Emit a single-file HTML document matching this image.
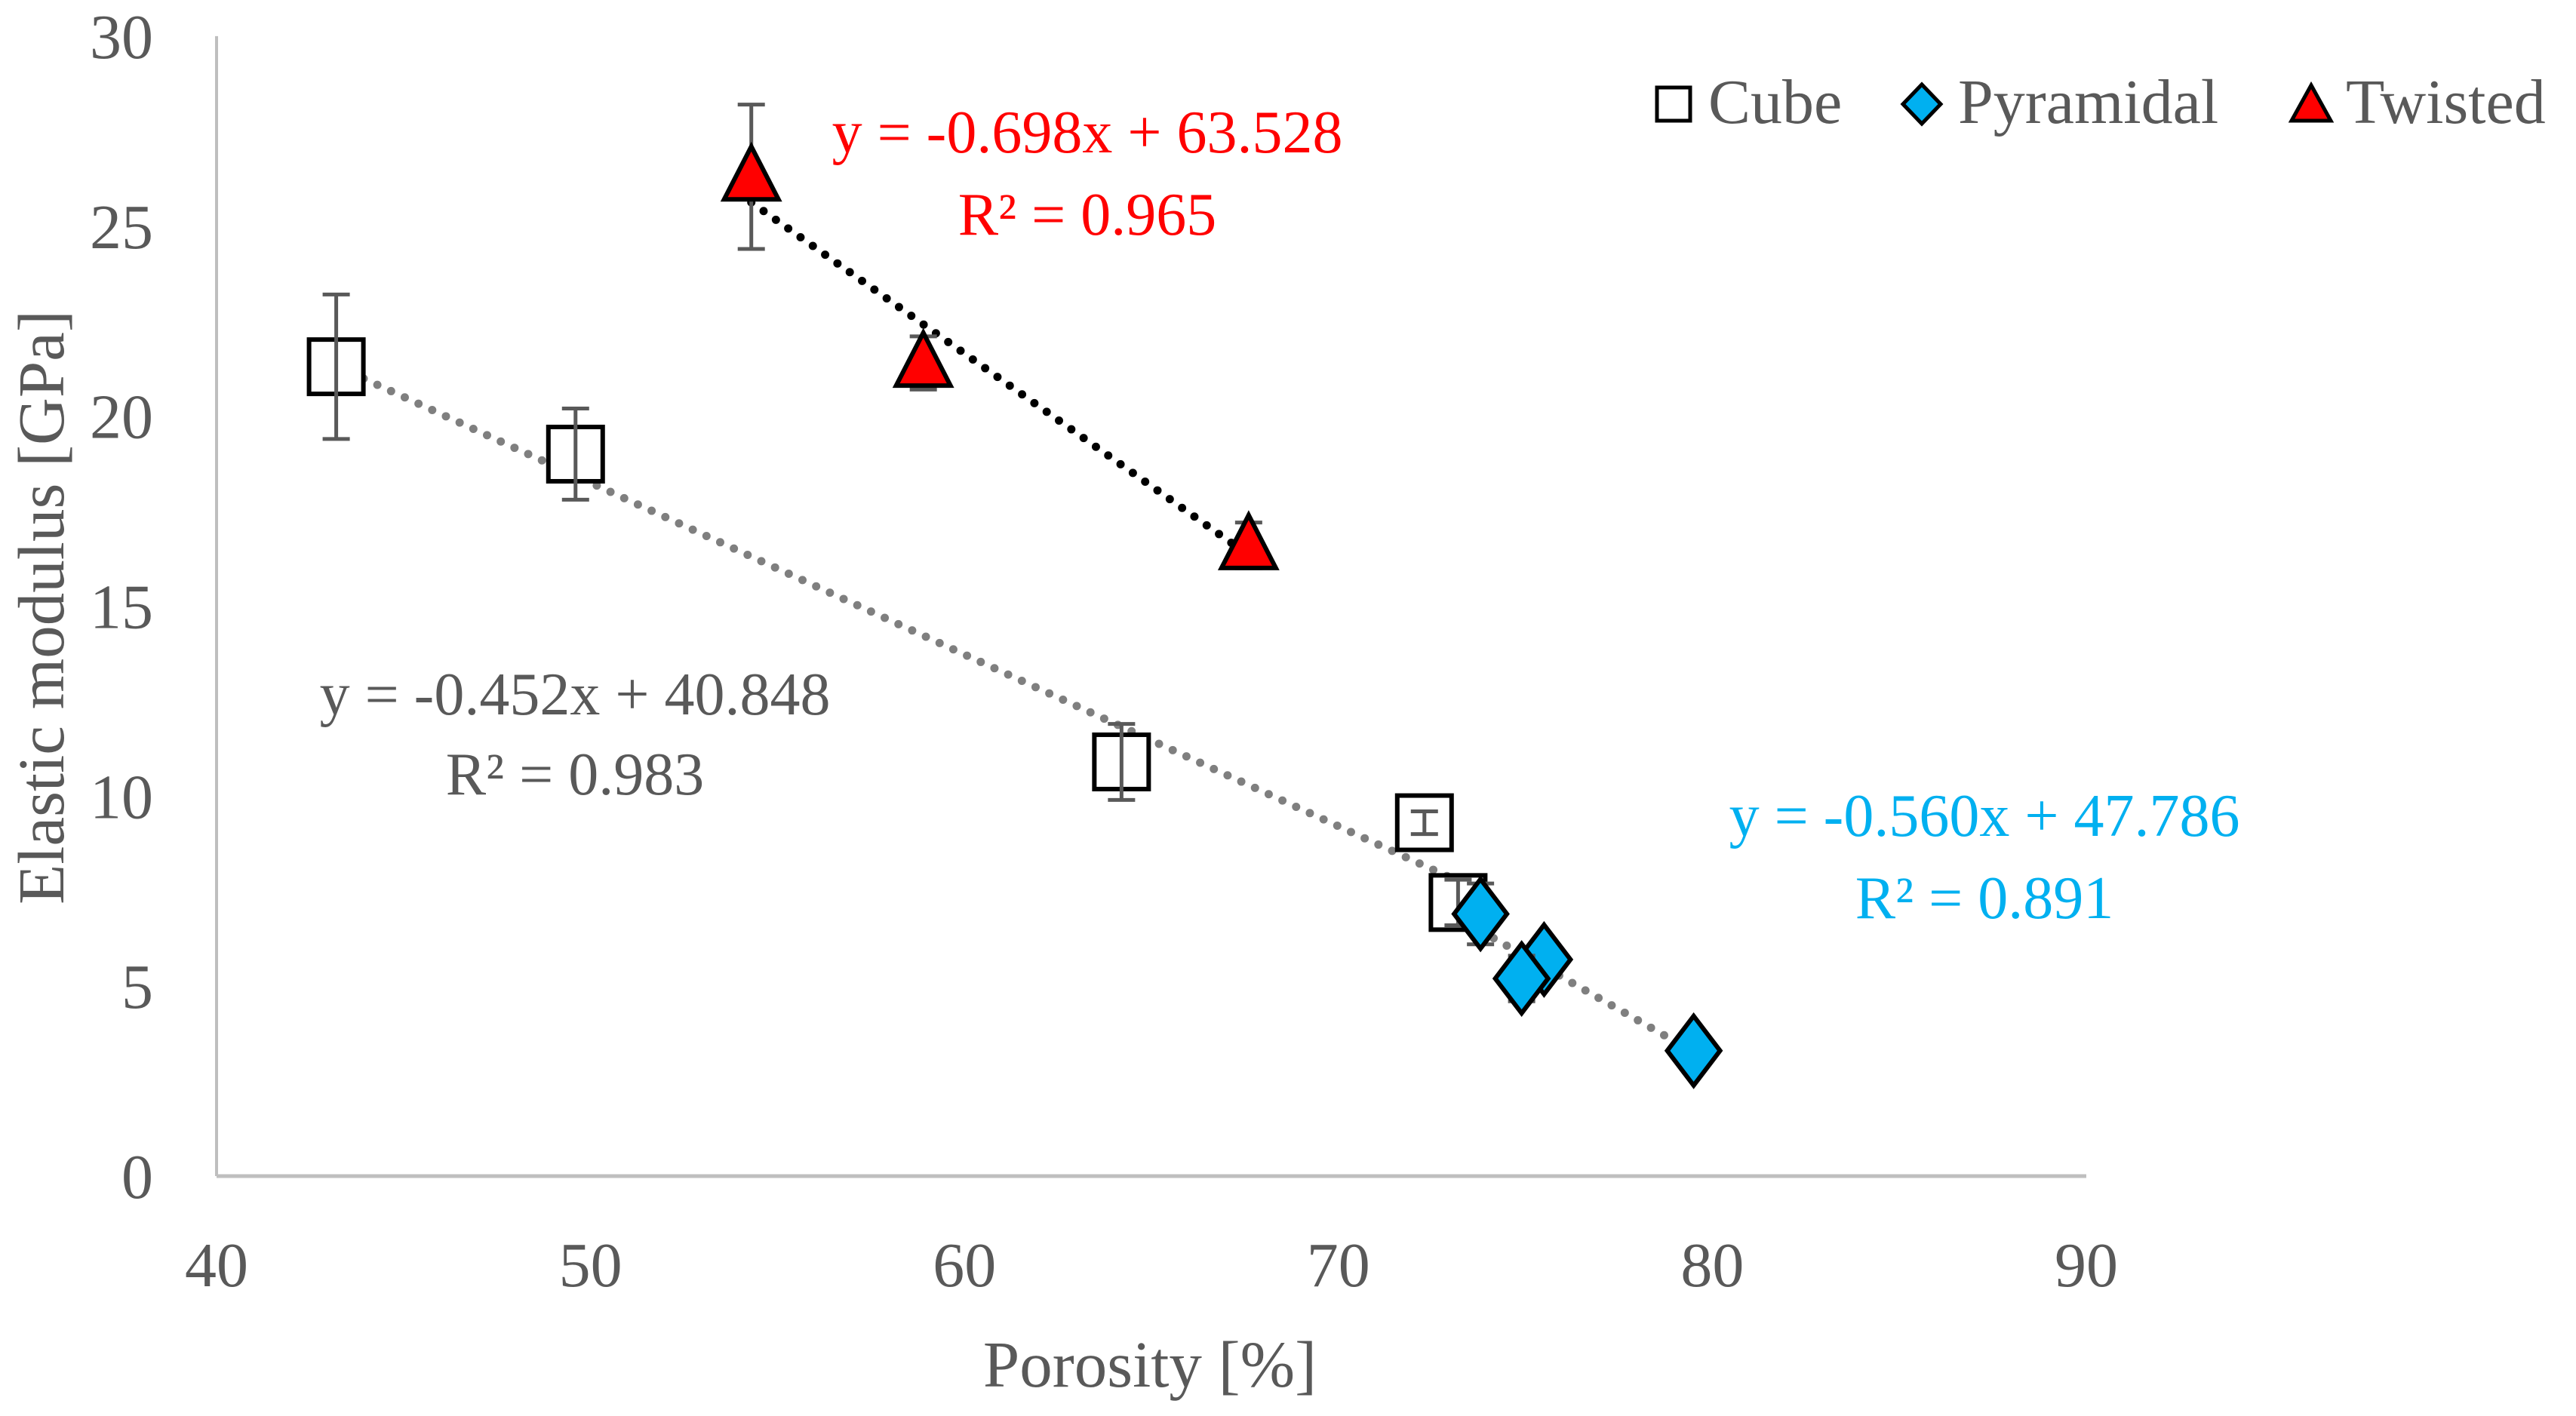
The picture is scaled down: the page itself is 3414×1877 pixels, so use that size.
<!DOCTYPE html>
<html><head><meta charset="utf-8"><style>
html,body{margin:0;padding:0;background:#fff}
svg{display:block;font-family:"Liberation Serif",serif}
</style></head><body>
<svg id="chart" width="3414" height="1877" viewBox="0 0 3414 1877" xmlns="http://www.w3.org/2000/svg">
<g id="axes"></g>
<g id="trends"></g>
<g id="marks"></g>
<g id="legend">
  <rect x="2196" y="116" width="44" height="44" fill="#fff" stroke="#000" stroke-width="5"/>
  <text x="2264" y="163" font-size="84" fill="#595959">Cube</text>
  <polygon points="2547,112 2572,138 2547,164 2522,138" fill="#00b0f0" stroke="#000" stroke-width="5"/>
  <text x="2595" y="163" font-size="84" fill="#595959">Pyramidal</text>
  <polygon points="3063,113 3089,160 3037,160" fill="#ff0000" stroke="#000" stroke-width="5"/>
  <text x="3109" y="163" font-size="84" fill="#595959">Twisted</text>
</g>
<g font-size="80" text-anchor="middle">
  <text x="1441" y="202" fill="#ff0000">y = -0.698x + 63.528</text>
  <text x="1441" y="311" fill="#ff0000">R² = 0.965</text>
  <text x="762" y="947" fill="#595959">y = -0.452x + 40.848</text>
  <text x="762" y="1053" fill="#595959">R² = 0.983</text>
  <text x="2630" y="1108" fill="#00b0f0">y = -0.560x + 47.786</text>
  <text x="2630" y="1217" fill="#00b0f0">R² = 0.891</text>
  <text x="1524" y="1838" font-size="87" fill="#595959">Porosity [%]</text>
  <text transform="translate(84,805) rotate(-90)" font-size="87" fill="#595959">Elastic modulus [GPa]</text>
</g>
</svg>
<script>
const xTicks=[40,50,60,70,80,90];
const yTicks=[0,5,10,15,20,25,30];
const cubeX=[43.2,49.6,64.2,72.3,73.2];
const cubeY=[21.3,19.0,10.9,9.3,7.2];
const cubeErr=[1.9,1.2,1.0,0.3,0.6];
const pyrX=[73.8,75.5,74.9,79.5];
const pyrY=[6.9,5.7,5.2,3.3];
const pyrErr=[0.8,0.3,0.6,0.1];
const twX=[54.3,58.9,67.6];
const twY=[26.3,21.4,16.6];
const twErr=[1.9,0.7,0.6];
const cubeFit=[-0.452,40.848];
const pyrFit=[-0.560,47.786];
const twFit=[-0.698,63.528];
const NS="http://www.w3.org/2000/svg";
const X=v=>287+(v-40)*49.56;
const Y=v=>1559-v*50.37;
function mk(tag,attrs,parent){const e=document.createElementNS(NS,tag);for(const k in attrs)e.setAttribute(k,attrs[k]);parent.appendChild(e);return e;}
const axes=document.getElementById('axes');
let e=mk('line',{x1:X(40),y1:Y(0),x2:X(90),y2:Y(0),stroke:'#bfbfbf','stroke-width':5},axes);


e=mk('line',{x1:X(40),y1:Y(0),x2:X(40),y2:Y(30),stroke:'#bfbfbf','stroke-width':4},axes);


xTicks.forEach(t=>{const el=mk('text',{x:X(t),y:1705,'font-size':84,fill:'#595959','text-anchor':'middle'},axes);el.textContent=t;

});
yTicks.forEach(t=>{const el=mk('text',{x:203,y:Y(t)+29,'font-size':84,fill:'#595959','text-anchor':'end'},axes);el.textContent=t;

});
const tr=document.getElementById('trends');
function trend(fit,xs,color,name){const a=Math.min(...xs),b=Math.max(...xs);
const l=mk('line',{x1:X(a),y1:Y(fit[0]*a+fit[1]),x2:X(b),y2:Y(fit[0]*b+fit[1]),stroke:color,'stroke-width':11,'stroke-dasharray':'0 20','stroke-linecap':'round'},tr);

}
trend(cubeFit,cubeX,'#7f7f7f','cube-trendline');
trend(pyrFit,pyrX,'#7f7f7f','pyramidal-trendline');
trend(twFit,twX,'#000','twisted-trendline');
const mg=document.getElementById('marks');
function err(x,y,d,name){const g=mk('g',{stroke:'#595959','stroke-width':5},mg);


mk('line',{x1:X(x),y1:Y(y-d),x2:X(x),y2:Y(y+d)},g);
mk('line',{x1:X(x)-18,y1:Y(y-d),x2:X(x)+18,y2:Y(y-d)},g);
mk('line',{x1:X(x)-18,y1:Y(y+d),x2:X(x)+18,y2:Y(y+d)},g);}
cubeX.forEach((x,i)=>{const r=mk('rect',{x:X(x)-36,y:Y(cubeY[i])-36,width:72,height:72,fill:'#fff',stroke:'#000','stroke-width':6},mg);


err(x,cubeY[i],cubeErr[i],'cube-error-bar');});
twX.forEach((x,i)=>{err(x,twY[i],twErr[i],'twisted-error-bar');
const cx=X(x),cy=Y(twY[i]);
const p=mk('polygon',{points:`${cx},${cy-40} ${cx+36},${cy+30} ${cx-36},${cy+30}`,fill:'#ff0000',stroke:'#000','stroke-width':6},mg);

});
pyrX.forEach((x,i)=>{err(x,pyrY[i],pyrErr[i],'pyramidal-error-bar');
const cx=X(x),cy=Y(pyrY[i]);
const p=mk('polygon',{points:`${cx},${cy-46} ${cx+35},${cy} ${cx},${cy+46} ${cx-35},${cy}`,fill:'#00b0f0',stroke:'#000','stroke-width':6},mg);

});
</script>
</body></html>
